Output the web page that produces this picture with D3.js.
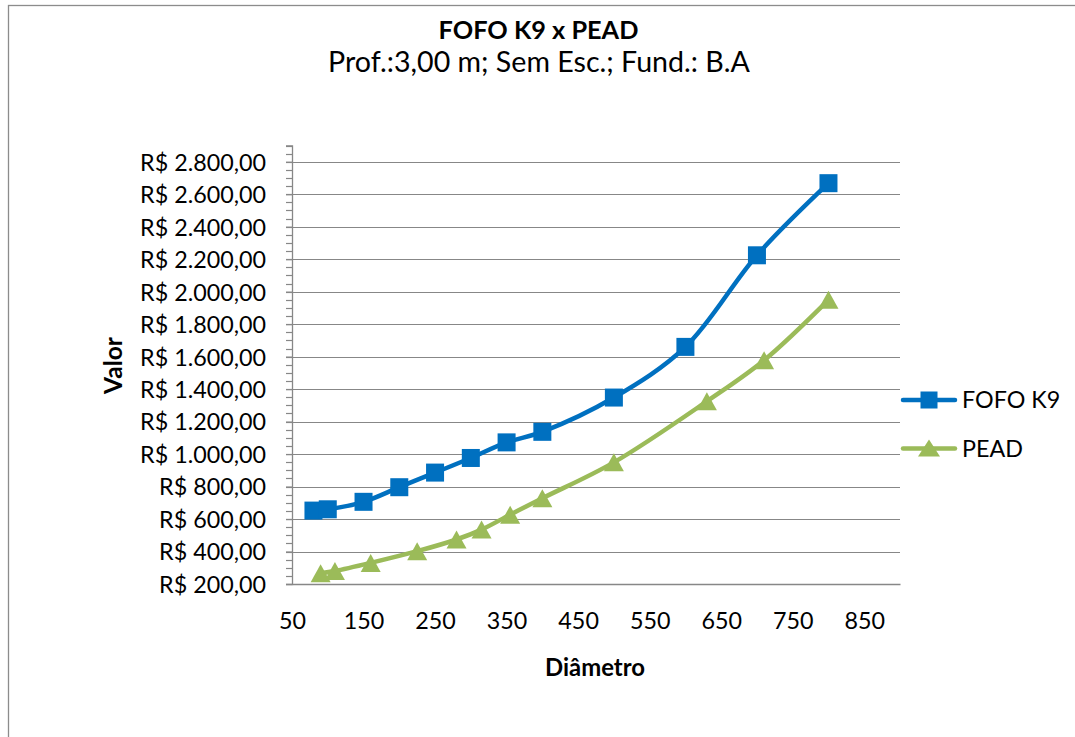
<!DOCTYPE html>
<html>
<head>
<meta charset="utf-8">
<script src="https://cdn.jsdelivr.net/npm/d3@7"></script>
<style>
  html, body { margin: 0; padding: 0; background: #fff; }
  svg { display: block; }
  text { font-family: Lato, "Open Sans", sans-serif; fill: #000; }
</style>
</head>
<body>
<svg id="chart" width="1075" height="737"></svg>
<script>
// ---- data ----
const fofoDiam  = [80, 100, 150, 200, 250, 300, 350, 400, 500, 600, 700, 800];
const fofoValor = [652, 660, 706, 796, 886, 976, 1072, 1137, 1348, 1660, 2224, 2668];
const peadDiam  = [90, 110, 160, 225, 280, 315, 355, 400, 500, 630, 710, 800];
const peadValor = [266, 280, 330, 402, 474, 535, 627, 728, 949, 1325, 1578, 1950];
const seriesNames = ["FOFO K9", "PEAD"];
const xTicks = [50, 150, 250, 350, 450, 550, 650, 750, 850];
const yTicks = [200, 400, 600, 800, 1000, 1200, 1400, 1600, 1800, 2000, 2200, 2400, 2600, 2800];
const yMinorTicks = d3.range(200, 2901, 50);
const titleText = "FOFO K9 x PEAD";
const subtitleText = "Prof.:3,00 m; Sem Esc.; Fund.: B.A";
const xTitle = "Diâmetro";
const yTitle = "Valor";

// ---- layout ----
const svg = d3.select("#chart");
const plot = { left: 292, right: 900, top: 145.5, bottom: 584 };
const x = d3.scaleLinear().domain([50, 900]).range([plot.left, plot.right]);
const y = d3.scaleLinear().domain([200, 2900]).range([plot.bottom, plot.top]);
const colors = { fofo: "#0070C0", pead: "#9BBB59", grid: "#878787", axis: "#878787" };

const loc = d3.formatLocale({ decimal: ",", thousands: ".", grouping: [3], currency: ["R$ ", ""] });
const fmtMoney = loc.format("$,.2f");

function fitWidth(sel, target) {
  sel.each(function () {
    const w = this.getComputedTextLength();
    const fs = parseFloat(d3.select(this).attr("font-size"));
    d3.select(this).attr("font-size", fs * target / w);
  });
}

// outer border
svg.append("rect").attr("x", 8.5).attr("y", 5.5).attr("width", 1200).attr("height", 900)
  .attr("fill", "none").attr("stroke", "#8c8c8c").attr("stroke-width", 1.3);

// gridlines
svg.append("g").selectAll("line").data(yTicks).join("line")
  .attr("x1", plot.left).attr("x2", plot.right)
  .attr("y1", d => Math.round(y(d)) + 0.5).attr("y2", d => Math.round(y(d)) + 0.5)
  .attr("stroke", colors.grid).attr("stroke-width", 1.2);

// y axis via d3 axis
const yAxis = d3.axisLeft(y).tickValues(yTicks).tickFormat(fmtMoney).tickSize(6).tickPadding(20);
const gy = svg.append("g").attr("transform", `translate(${plot.left},0)`).call(yAxis);
gy.select(".domain").attr("stroke", colors.axis).attr("stroke-width", 1.3);
gy.selectAll(".tick line").attr("stroke", colors.axis).attr("stroke-width", 1.2);
gy.selectAll(".tick text").attr("font-size", 20).attr("font-family", "Lato").attr("fill", "#000");
// minor ticks
svg.append("g").selectAll("line").data(yMinorTicks).join("line")
  .attr("x1", plot.left - 6).attr("x2", plot.left)
  .attr("y1", d => Math.round(y(d)) + 0.5).attr("y2", d => Math.round(y(d)) + 0.5)
  .attr("stroke", colors.axis).attr("stroke-width", 1.2);

// x axis via d3 axis
const xAxis = d3.axisBottom(x).tickValues(xTicks).tickSize(0).tickPadding(28);
const gx = svg.append("g").attr("transform", `translate(0,${plot.bottom})`).call(xAxis);
gx.select(".domain").attr("stroke", colors.axis).attr("stroke-width", 1.3);
gx.selectAll(".tick text").attr("font-size", 20).attr("font-family", "Lato").attr("fill", "#000");

// fit tick label sizes
const sample = gy.selectAll(".tick text").filter(d => d === 2800);
const w0 = sample.node().getComputedTextLength();
const tickFs = 20 * 126 / w0;
gy.selectAll(".tick text").attr("font-size", tickFs).attr("dy", "0.36em");
gx.selectAll(".tick text").attr("font-size", tickFs).attr("dy", "0.71em");

// titles
const t1 = svg.append("text").attr("x", 538.5).attr("y", 38.5).attr("text-anchor", "middle")
  .attr("font-weight", "bold").attr("font-size", 22).text(titleText);
fitWidth(t1, 200);
const t2 = svg.append("text").attr("x", 539).attr("y", 71.7).attr("text-anchor", "middle")
  .attr("font-size", 22).text(subtitleText);
fitWidth(t2, 422);
const tx = svg.append("text").attr("x", 595).attr("y", 675.5).attr("text-anchor", "middle")
  .attr("font-weight", "bold").attr("font-size", 20).text(xTitle);
fitWidth(tx, 100);
const ty = svg.append("text").attr("transform", "translate(121.5,365.5) rotate(-90)").attr("text-anchor", "middle")
  .attr("font-weight", "bold").attr("font-size", 20).text(yTitle);
fitWidth(ty, 57);

// series
const line = d3.line().x(d => x(d[0])).y(d => y(d[1])).curve(d3.curveCatmullRom.alpha(0.5));
const fofo = fofoDiam.map((d, i) => [d, fofoValor[i]]);
const pead = peadDiam.map((d, i) => [d, peadValor[i]]);

svg.append("path").datum(pead).attr("d", line).attr("fill", "none")
  .attr("stroke", colors.pead).attr("stroke-width", 4.5).attr("stroke-linejoin", "round").attr("stroke-linecap", "round");
svg.append("path").datum(fofo).attr("d", line).attr("fill", "none")
  .attr("stroke", colors.fofo).attr("stroke-width", 4.5).attr("stroke-linejoin", "round").attr("stroke-linecap", "round");

const triPath = (w, h) => `M0,${-h / 2}L${w / 2},${h / 2}L${-w / 2},${h / 2}Z`;
svg.append("g").selectAll("path").data(pead).join("path")
  .attr("transform", d => `translate(${x(d[0])},${y(d[1])})`)
  .attr("d", triPath(20, 18)).attr("fill", colors.pead);
const sq = 18;
svg.append("g").selectAll("rect").data(fofo).join("rect")
  .attr("x", d => x(d[0]) - sq / 2).attr("y", d => y(d[1]) - sq / 2)
  .attr("width", sq).attr("height", sq).attr("fill", colors.fofo);

// legend
const legend = svg.append("g");
const legItems = [
  { name: seriesNames[0], color: colors.fofo, y: 400, shape: "square" },
  { name: seriesNames[1], color: colors.pead, y: 448.5, shape: "tri" }
];
legItems.forEach(it => {
  legend.append("line").attr("x1", 903).attr("x2", 955).attr("y1", it.y).attr("y2", it.y)
    .attr("stroke", it.color).attr("stroke-width", 4.5).attr("stroke-linecap", "round");
  if (it.shape === "square") {
    legend.append("rect").attr("x", 929 - 8.5).attr("y", it.y - 8.5).attr("width", 17).attr("height", 17).attr("fill", it.color);
  } else {
    legend.append("path").attr("transform", `translate(929,${it.y - 0.5})`).attr("d", triPath(22, 17)).attr("fill", it.color);
  }
  legend.append("text").attr("x", 962).attr("y", it.y + 8).attr("font-size", tickFs).text(it.name);
});
</script>
</body>
</html>
